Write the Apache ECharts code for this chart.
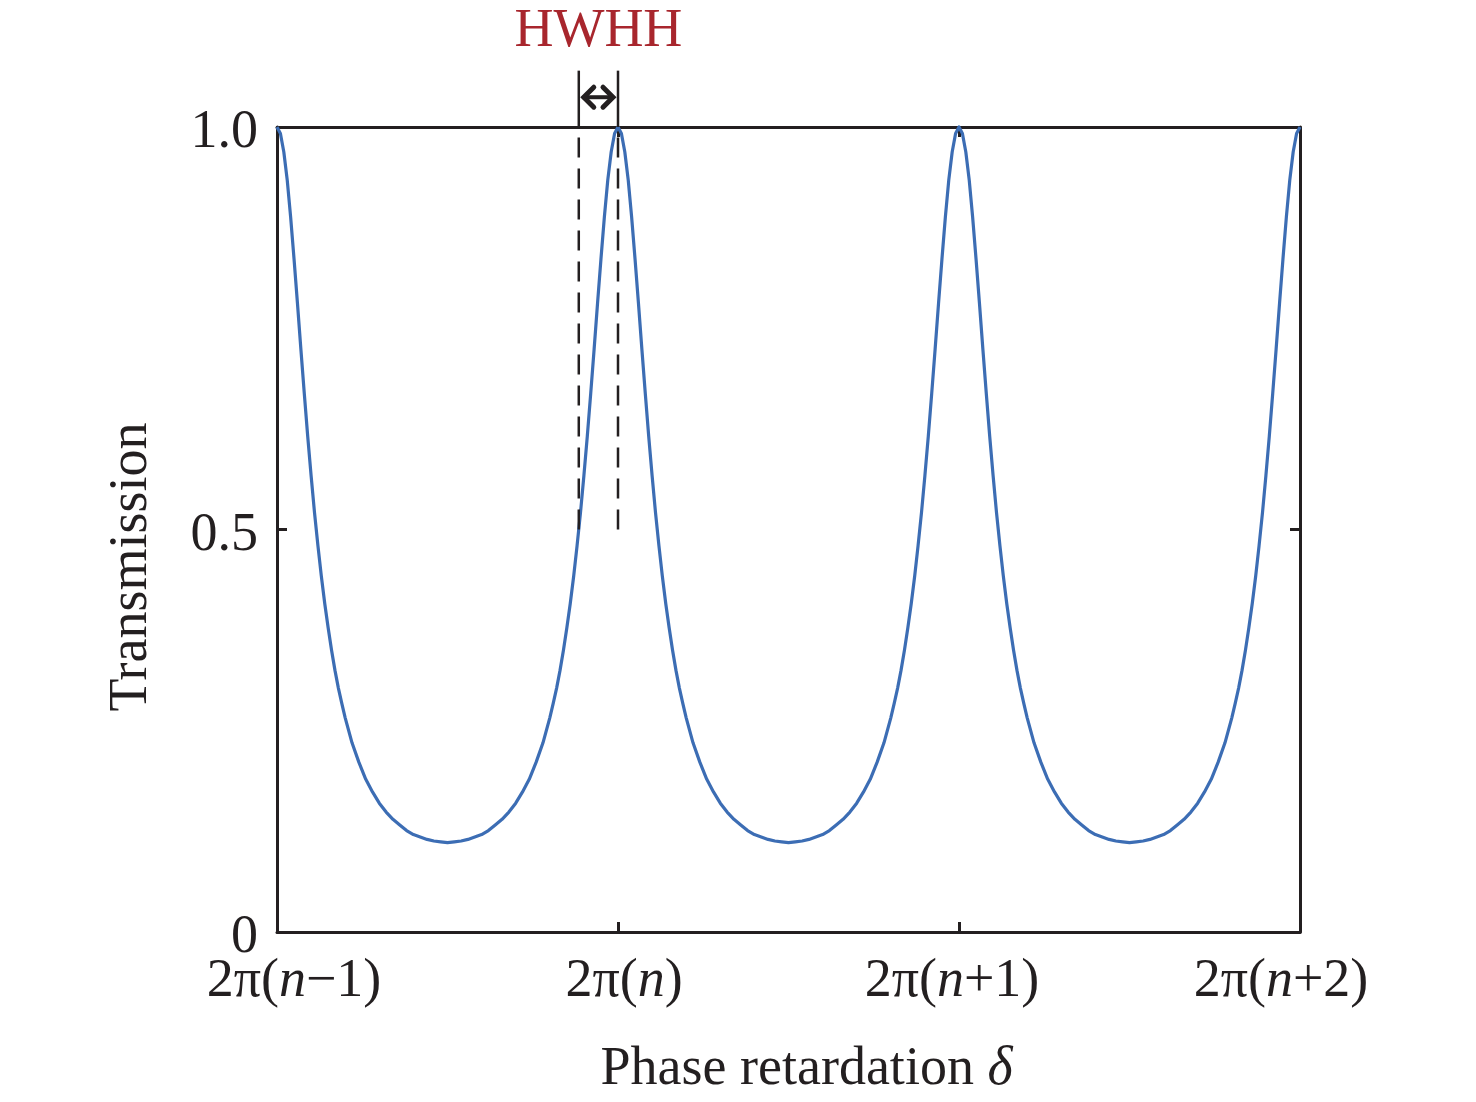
<!DOCTYPE html>
<html>
<head>
<meta charset="utf-8">
<script src="https://cdn.jsdelivr.net/npm/echarts@6/dist/echarts.min.js"></script>
<style>
html,body{margin:0;padding:0;background:#fff;}
#chart{width:1476px;height:1102px;}
</style>
</head>
<body>
<div id="chart"></div>
<script>
// Phase retardation in periods (0 = 2π(n−1), 1 = 2π(n), 2 = 2π(n+1), 3 = 2π(n+2))
const phase = [
  0.00,0.01,0.02,0.03,0.04,0.05,0.06,0.07,0.08,0.09,0.10,0.11,0.12,0.13,0.14,0.15,0.16,0.17,0.18,0.19,0.20,0.22,0.24,0.26,0.28,0.30,0.32,0.34,0.36,0.38,0.40,0.42,0.44,0.46,0.48,
  0.50,0.52,0.54,0.56,0.58,0.60,0.62,0.64,0.66,0.68,0.70,0.72,0.74,0.76,0.78,0.80,0.81,0.82,0.83,0.84,0.85,0.86,0.87,0.88,0.89,0.90,0.91,0.92,0.93,0.94,0.95,0.96,0.97,0.98,0.99,
  1.00,1.01,1.02,1.03,1.04,1.05,1.06,1.07,1.08,1.09,1.10,1.11,1.12,1.13,1.14,1.15,1.16,1.17,1.18,1.19,1.20,1.22,1.24,1.26,1.28,1.30,1.32,1.34,1.36,1.38,1.40,1.42,1.44,1.46,1.48,
  1.50,1.52,1.54,1.56,1.58,1.60,1.62,1.64,1.66,1.68,1.70,1.72,1.74,1.76,1.78,1.80,1.81,1.82,1.83,1.84,1.85,1.86,1.87,1.88,1.89,1.90,1.91,1.92,1.93,1.94,1.95,1.96,1.97,1.98,1.99,
  2.00,2.01,2.02,2.03,2.04,2.05,2.06,2.07,2.08,2.09,2.10,2.11,2.12,2.13,2.14,2.15,2.16,2.17,2.18,2.19,2.20,2.22,2.24,2.26,2.28,2.30,2.32,2.34,2.36,2.38,2.40,2.42,2.44,2.46,2.48,
  2.50,2.52,2.54,2.56,2.58,2.60,2.62,2.64,2.66,2.68,2.70,2.72,2.74,2.76,2.78,2.80,2.81,2.82,2.83,2.84,2.85,2.86,2.87,2.88,2.89,2.90,2.91,2.92,2.93,2.94,2.95,2.96,2.97,2.98,2.99,
  3.00
];
const transmission = [
  1.000,0.992,0.969,0.934,0.888,0.836,0.781,0.724,0.669,0.616,0.567,0.521,0.480,0.442,0.408,0.378,0.350,0.325,0.303,0.284,0.266,0.235,0.211,0.190,0.174,0.160,0.149,0.140,0.133,0.126,0.121,0.118,0.115,0.113,0.112,
  0.111,0.112,0.113,0.115,0.118,0.121,0.126,0.133,0.140,0.149,0.160,0.174,0.190,0.211,0.235,0.266,0.284,0.303,0.325,0.350,0.378,0.408,0.442,0.480,0.521,0.567,0.616,0.669,0.724,0.781,0.836,0.888,0.934,0.969,0.992,
  1.000,0.992,0.969,0.934,0.888,0.836,0.781,0.724,0.669,0.616,0.567,0.521,0.480,0.442,0.408,0.378,0.350,0.325,0.303,0.284,0.266,0.235,0.211,0.190,0.174,0.160,0.149,0.140,0.133,0.126,0.121,0.118,0.115,0.113,0.112,
  0.111,0.112,0.113,0.115,0.118,0.121,0.126,0.133,0.140,0.149,0.160,0.174,0.190,0.211,0.235,0.266,0.284,0.303,0.325,0.350,0.378,0.408,0.442,0.480,0.521,0.567,0.616,0.669,0.724,0.781,0.836,0.888,0.934,0.969,0.992,
  1.000,0.992,0.969,0.934,0.888,0.836,0.781,0.724,0.669,0.616,0.567,0.521,0.480,0.442,0.408,0.378,0.350,0.325,0.303,0.284,0.266,0.235,0.211,0.190,0.174,0.160,0.149,0.140,0.133,0.126,0.121,0.118,0.115,0.113,0.112,
  0.111,0.112,0.113,0.115,0.118,0.121,0.126,0.133,0.140,0.149,0.160,0.174,0.190,0.211,0.235,0.266,0.284,0.303,0.325,0.350,0.378,0.408,0.442,0.480,0.521,0.567,0.616,0.669,0.724,0.781,0.836,0.888,0.934,0.969,0.992,
  1.000
];
// x tick labels: [prefix, italic variable, suffix]
const xTickLabels = [
  ['2π(', 'n', '−1)'],
  ['2π(', 'n', ')'],
  ['2π(', 'n', '+1)'],
  ['2π(', 'n', '+2)']
];
const yTickLabels = {0: '0', 0.5: '0.5', 1: '1.0'};
// HWHH annotation: [half-max phase, peak phase, half level, bracket top, arrow level, label level]
const hwhh = [0.885, 1.0, 0.5, 1.07, 1.037, 1.118];
const hwhhText = 'HWHH';

const FONT = 'Liberation Serif';
const FS = 54;
const INK = '#231f20';

const data = phase.map((p, i) => [p, transmission[i]]);

const labelPad = [[0,0,0,34],[0,0,0,12],[0,14,0,0],[0,38,0,0]];
const rich = {};
xTickLabels.forEach((t, i) => {
  rich['a' + i] = {fontFamily: FONT, fontSize: FS, color: INK, padding: [0,0,0,labelPad[i][3]]};
  rich['c' + i] = {fontFamily: FONT, fontSize: FS, color: INK, padding: [0,labelPad[i][1],0,0]};
});
rich.i = {fontFamily: FONT, fontSize: FS, color: INK, fontStyle: 'italic'};

const chart = echarts.init(document.getElementById('chart'));
const axisLine = {show: true, onZero: false, lineStyle: {color: INK, width: 3}};
const axisTick = {show: true, inside: true, length: 10, lineStyle: {color: INK, width: 3}};

chart.setOption({
  backgroundColor: '#fff',
  animation: false,
  grid: {left: 277, right: 176, top: 127, bottom: 170, containLabel: false},
  xAxis: [
    {
      type: 'value', min: 0, max: 3, interval: 1, position: 'bottom',
      axisLine, axisTick, splitLine: {show: false},
      axisLabel: {
        margin: 23,
        formatter: v => {
          const k = Math.round(v);
          const t = xTickLabels[k];
          return '{a' + k + '|' + t[0] + '}{i|' + t[1] + '}{c' + k + '|' + t[2] + '}';
        },
        rich
      },
      name: '{n|Phase retardation }{d|δ}',
      nameLocation: 'middle',
      nameGap: 111,
      nameTextStyle: {
        padding: [0,0,0,36],
        rich: {
          n: {fontFamily: FONT, fontSize: FS, color: INK},
          d: {fontFamily: FONT, fontSize: FS, color: INK, fontStyle: 'italic'}
        }
      }
    },
    {
      type: 'value', min: 0, max: 3, interval: 1, position: 'top',
      axisLine, axisTick, axisLabel: {show: false}, splitLine: {show: false}
    }
  ],
  yAxis: [
    {
      type: 'value', min: 0, max: 1, interval: 0.5, position: 'left',
      axisLine, axisTick, splitLine: {show: false},
      axisLabel: {
        margin: 19,
        formatter: v => '{v|' + yTickLabels[v] + '}',
        rich: {v: {fontFamily: FONT, fontSize: FS, color: INK, padding: [12,0,0,0]}}
      },
      name: 'Transmission',
      nameLocation: 'middle',
      nameGap: 118,
      nameTextStyle: {fontFamily: FONT, fontSize: FS, color: INK, padding: [0,75,0,0]}
    },
    {
      type: 'value', min: 0, max: 1, interval: 0.5, position: 'right',
      axisLine, axisTick, axisLabel: {show: false}, splitLine: {show: false}
    }
  ],
  series: [
    {
      type: 'line',
      data,
      xAxisIndex: 0, yAxisIndex: 0,
      showSymbol: false,
      smooth: false,
      clip: false,
      lineStyle: {color: '#3c6db4', width: 3.2, join: 'round'},
      z: 3
    },
    {
      type: 'custom',
      xAxisIndex: 0, yAxisIndex: 0,
      clip: false,
      data: [hwhh],
      encode: {x: [0, 1], y: [2, 3, 4, 5]},
      z: 4,
      renderItem: (params, api) => {
        const xl = api.value(0), xr = api.value(1);
        const yh = api.value(2), yt = api.value(3), ya = api.value(4), yl = api.value(5);
        const lh = api.coord([xl, yh]), lf = api.coord([xl, 1]), lt = api.coord([xl, yt]);
        const rh = api.coord([xr, yh]), rf = api.coord([xr, 1]), rt = api.coord([xr, yt]);
        const la = api.coord([xl, ya]), ra = api.coord([xr, ya]);
        const lab = api.coord([(xl + xr) / 2, yl]);
        const dashStyle = {stroke: INK, lineWidth: 2.5, lineDash: [20, 11]};
        const solidStyle = {stroke: INK, lineWidth: 2.5};
        const headStyle = {stroke: INK, lineWidth: 5, fill: null, lineJoin: 'miter', lineCap: 'round'};
        return {
          type: 'group',
          children: [
            {type: 'line', shape: {x1: lh[0], y1: lh[1], x2: lf[0], y2: lf[1]}, style: dashStyle},
            {type: 'line', shape: {x1: rh[0], y1: rh[1], x2: rf[0], y2: rf[1]}, style: dashStyle},
            {type: 'line', shape: {x1: lf[0], y1: lf[1], x2: lt[0], y2: lt[1]}, style: solidStyle},
            {type: 'line', shape: {x1: rf[0], y1: rf[1], x2: rt[0], y2: rt[1]}, style: solidStyle},
            {type: 'line', shape: {x1: la[0] + 4, y1: la[1], x2: ra[0] - 4, y2: ra[1]}, style: {stroke: INK, lineWidth: 4}},
            {type: 'polyline', shape: {points: [[la[0] + 15, la[1] - 10], [la[0] + 5, la[1]], [la[0] + 15, la[1] + 10]]}, style: headStyle},
            {type: 'polyline', shape: {points: [[ra[0] - 15, ra[1] - 10], [ra[0] - 5, ra[1]], [ra[0] - 15, ra[1] + 10]]}, style: headStyle},
            {type: 'text', x: lab[0], y: lab[1], style: {text: hwhhText, fill: '#a8262d', font: FS + 'px "' + FONT + '"', textAlign: 'center', textVerticalAlign: 'middle'}}
          ]
        };
      }
    }
  ]
});
</script>
</body>
</html>
